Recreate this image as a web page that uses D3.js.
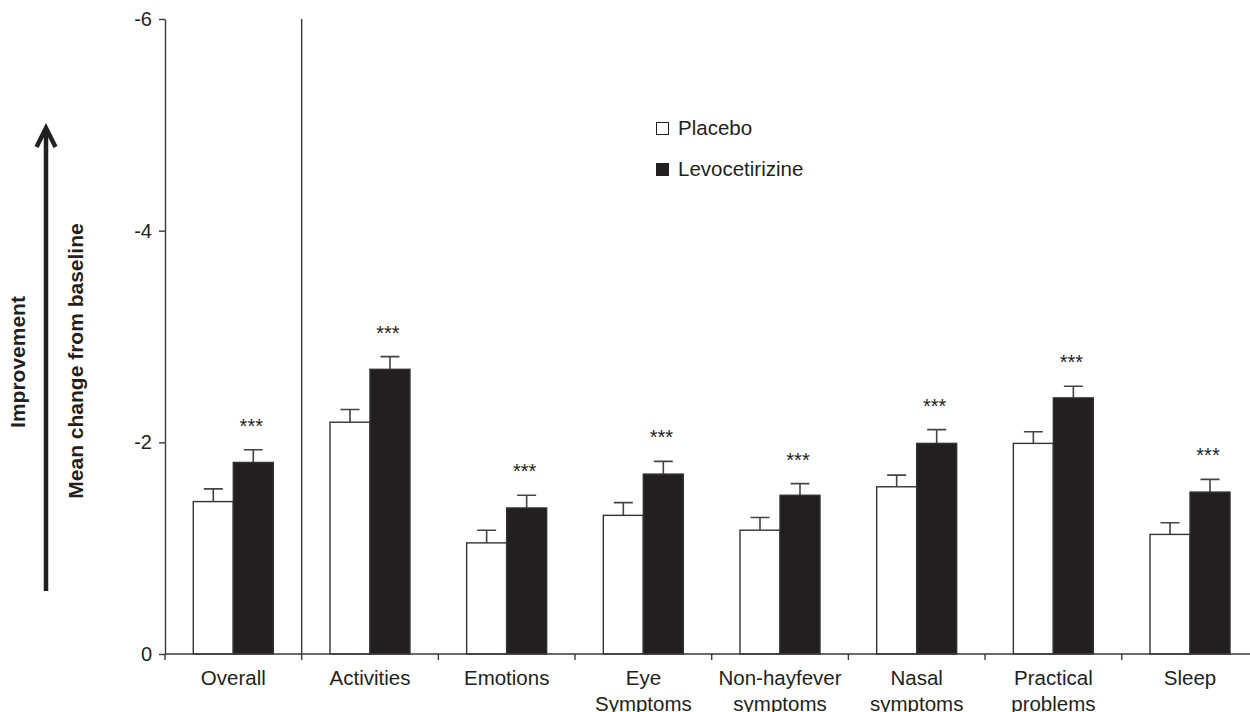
<!DOCTYPE html>
<html>
<head>
<meta charset="utf-8">
<script src="https://cdn.jsdelivr.net/npm/d3@7"></script>
<style>
  body { margin: 0; background: #fff; }
  svg { display: block; font-family: "Liberation Sans", Arial, Helvetica, sans-serif; }
</style>
</head>
<body>
<div id="chart"></div>
<script>
// categories and values (mean change from baseline, negative = improvement)
var categories = ["Overall", "Activities", "Emotions", "Eye Symptoms", "Non-hayfever symptoms", "Nasal symptoms", "Practical problems", "Sleep"];
var categoryLines = [["Overall"], ["Activities"], ["Emotions"], ["Eye", "Symptoms"], ["Non-hayfever", "symptoms"], ["Nasal", "symptoms"], ["Practical", "problems"], ["Sleep"]];
var series = ["Placebo", "Levocetirizine"];
var placebo = [-1.44, -2.19, -1.05, -1.31, -1.17, -1.58, -1.99, -1.13];
var placeboErr = [0.12, 0.12, 0.12, 0.12, 0.12, 0.11, 0.11, 0.11];
var levo = [-1.81, -2.69, -1.38, -1.70, -1.50, -1.99, -2.42, -1.53];
var levoErr = [0.12, 0.12, 0.12, 0.12, 0.11, 0.13, 0.11, 0.12];
var significance = ["***", "***", "***", "***", "***", "***", "***", "***"];
var yTicks = [0, -2, -4, -6];

var width = 1250, height = 712;
var dark = "#231f20", lineCol = "#3a3a3a";
var x0 = 165, x1 = 1258.4, yTop = 19, yZero = 654;

var svg = d3.select("#chart").append("svg")
  .attr("width", width)
  .attr("height", height);

// scales
var x = d3.scaleBand().domain(categories).range([x0, x1]).padding(0);
var xs = d3.scaleBand().domain(series).range([28.3, 108.3]).padding(0);
var y = d3.scaleLinear().domain([0, -6]).range([yZero, yTop]);

// y axis (plain hyphen for the minus sign, as in the original)
var yAxis = svg.append("g")
  .attr("transform", "translate(" + x0 + ",0)")
  .call(d3.axisLeft(y).tickValues(yTicks).tickSize(6).tickSizeOuter(0).tickPadding(7)
    .tickFormat(function (d) { return String(d); }));
yAxis.select(".domain").attr("stroke", lineCol).attr("stroke-width", 1.4);
yAxis.selectAll(".tick line").attr("stroke", lineCol).attr("stroke-width", 1.4);
yAxis.selectAll(".tick text")
  .style("font-size", "20px")
  .style("font-family", "Liberation Sans, Arial, sans-serif")
  .attr("fill", dark);

// bars
var groups = svg.selectAll(".grp")
  .data(categories)
  .enter()
  .append("g")
  .attr("class", "grp")
  .attr("transform", function (d) { return "translate(" + x(d) + ",0)"; });

var rows = categories.map(function (c, i) {
  return [
    { s: "Placebo", v: placebo[i], e: placeboErr[i] },
    { s: "Levocetirizine", v: levo[i], e: levoErr[i] }
  ];
});

groups.each(function (c, i) {
  var g = d3.select(this);
  var data = rows[i];

  // error bars (drawn first so the bar outline sits on top)
  g.selectAll(".err")
    .data(data)
    .enter()
    .append("path")
    .attr("class", "err")
    .attr("fill", "none")
    .attr("stroke", "#444")
    .attr("stroke-width", 1.6)
    .attr("d", function (d) {
      var cx = xs(d.s) + xs.bandwidth() / 2;
      var top = y(d.v - d.e);
      return "M" + cx + "," + y(d.v) + "V" + top + "M" + (cx - 9.5) + "," + top + "H" + (cx + 9.5);
    });

  g.selectAll(".bar")
    .data(data)
    .enter()
    .append("rect")
    .attr("class", "bar")
    .attr("x", function (d) { return xs(d.s); })
    .attr("width", xs.bandwidth())
    .attr("y", function (d) { return y(d.v); })
    .attr("height", function (d) { return y(0) - y(d.v); })
    .attr("fill", function (d) { return d.s === "Placebo" ? "#fff" : dark; })
    .attr("stroke", "#333")
    .attr("stroke-width", 1.4);

  // significance stars above levocetirizine
  g.append("text")
    .attr("x", xs("Levocetirizine") + xs.bandwidth() / 2 - 2)
    .attr("y", y(levo[i] - levoErr[i]) - 17)
    .attr("text-anchor", "middle")
    .style("font-size", "20px")
    .attr("fill", dark)
    .text(significance[i]);
});

// x axis line, ticks between categories
var bounds = categories.map(function (c) { return x(c); }).concat([x1]);
svg.append("line")
  .attr("x1", x0).attr("x2", width)
  .attr("y1", yZero).attr("y2", yZero)
  .attr("stroke", lineCol).attr("stroke-width", 1.4);
svg.selectAll(".xtick")
  .data(bounds)
  .enter()
  .append("line")
  .attr("class", "xtick")
  .attr("x1", function (d) { return d; })
  .attr("x2", function (d) { return d; })
  .attr("y1", yZero)
  .attr("y2", yZero + 6)
  .attr("stroke", lineCol)
  .attr("stroke-width", 1.4);

// separator between Overall and the domains
svg.append("line")
  .attr("x1", x(categories[1])).attr("x2", x(categories[1]))
  .attr("y1", yTop).attr("y2", yZero)
  .attr("stroke", lineCol).attr("stroke-width", 1.4);

// category labels
var labels = svg.selectAll(".xlab")
  .data(categories)
  .enter()
  .append("text")
  .attr("class", "xlab")
  .attr("text-anchor", "middle")
  .attr("transform", function (d) { return "translate(" + (x(d) + x.bandwidth() / 2) + ",685)"; })
  .style("font-size", "20.5px")
  .attr("fill", dark);
labels.each(function (d, i) {
  var t = d3.select(this);
  categoryLines[i].forEach(function (line, k) {
    t.append("tspan").attr("x", 0).attr("y", k * 26).text(line);
  });
});

// legend
var legend = svg.append("g").attr("transform", "translate(656,0)");
var legendY = [122, 163];
series.forEach(function (s, i) {
  legend.append("rect")
    .attr("x", 0.5).attr("y", legendY[i] + 0.5)
    .attr("width", 12).attr("height", 12)
    .attr("fill", i === 0 ? "#fff" : dark)
    .attr("stroke", dark).attr("stroke-width", 1);
  legend.append("text")
    .attr("x", 22).attr("y", legendY[i] + 13)
    .style("font-size", "20.5px")
    .attr("fill", dark)
    .text(s);
});

// y axis titles
svg.append("text")
  .attr("transform", "translate(83,361) rotate(-90)")
  .attr("text-anchor", "middle")
  .style("font-size", "21px")
  .style("font-weight", "bold")
  .attr("fill", dark)
  .text("Mean change from baseline");

svg.append("text")
  .attr("transform", "translate(25,362) rotate(-90)")
  .attr("text-anchor", "middle")
  .style("font-size", "21px")
  .style("font-weight", "bold")
  .attr("fill", dark)
  .text("Improvement");

// improvement arrow
svg.append("path")
  .attr("d", "M46,591V129")
  .attr("stroke", dark).attr("stroke-width", 4.5).attr("fill", "none");
svg.append("path")
  .attr("d", "M36.5,147L46,128L55.5,147")
  .attr("stroke", dark).attr("stroke-width", 4.5).attr("fill", "none")
  .attr("stroke-linejoin", "miter");
</script>
</body>
</html>
